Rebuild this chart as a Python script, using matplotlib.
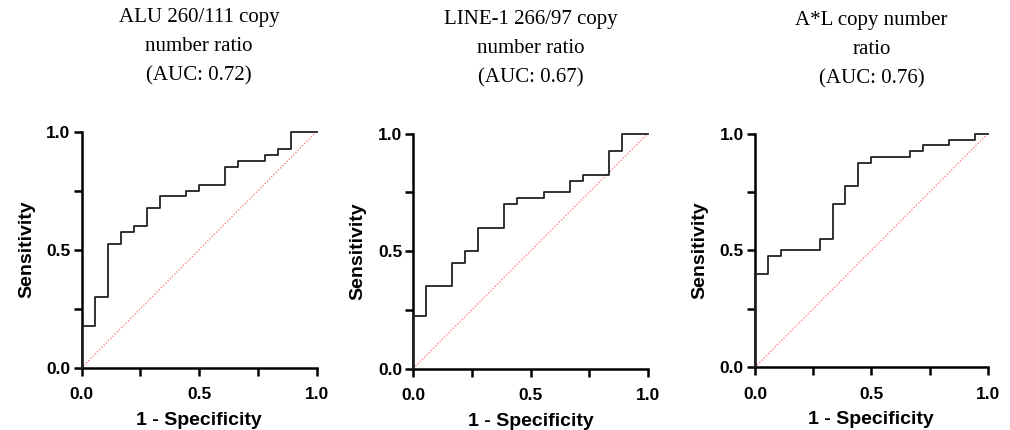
import matplotlib
matplotlib.use("Agg")
import matplotlib.pyplot as plt
import numpy as np

# ROC step points (1 - specificity, sensitivity)
alu_fpr = [0, 0, 1/18, 1/18, 2/18, 2/18, 3/18, 3/18, 4/18, 4/18, 5/18, 5/18, 6/18, 6/18,
           8/18, 8/18, 9/18, 9/18, 11/18, 11/18, 12/18, 12/18, 14/18, 14/18, 15/18, 15/18,
           16/18, 16/18, 1]
alu_tpr = [0, 0.175, 0.175, 0.30, 0.30, 0.525, 0.525, 0.575, 0.575, 0.60, 0.60, 0.675, 0.675, 0.725,
           0.725, 0.75, 0.75, 0.775, 0.775, 0.85, 0.85, 0.875, 0.875, 0.90, 0.90, 0.925,
           0.925, 1.0, 1.0]

line_fpr = [0, 0, 1/18, 1/18, 3/18, 3/18, 4/18, 4/18, 5/18, 5/18, 7/18, 7/18, 8/18, 8/18,
            10/18, 10/18, 12/18, 12/18, 13/18, 13/18, 15/18, 15/18, 16/18, 16/18, 1]
line_tpr = [0, 0.225, 0.225, 0.35, 0.35, 0.45, 0.45, 0.50, 0.50, 0.60, 0.60, 0.70, 0.70, 0.725,
            0.725, 0.75, 0.75, 0.80, 0.80, 0.825, 0.825, 0.925, 0.925, 1.0, 1.0]

al_fpr = [0, 0, 1/18, 1/18, 2/18, 2/18, 5/18, 5/18, 6/18, 6/18, 7/18, 7/18, 8/18, 8/18,
          9/18, 9/18, 12/18, 12/18, 13/18, 13/18, 15/18, 15/18, 17/18, 17/18, 1]
al_tpr = [0, 0.40, 0.40, 0.475, 0.475, 0.50, 0.50, 0.55, 0.55, 0.70, 0.70, 0.775, 0.775, 0.875,
          0.875, 0.90, 0.90, 0.925, 0.925, 0.95, 0.95, 0.975, 0.975, 1.0, 1.0]

titles = ["ALU 260/111 copy\nnumber ratio\n(AUC: 0.72)",
          "LINE-1 266/97 copy\nnumber ratio\n(AUC: 0.67)",
          "A*L copy number\nratio\n(AUC: 0.76)"]
curves = [(alu_fpr, alu_tpr), (line_fpr, line_tpr), (al_fpr, al_tpr)]

# axes boxes in figure fractions
boxes = [[0.0809, 0.145, 0.2327, 0.549],
         [0.4092, 0.143, 0.2321, 0.546],
         [0.7475, 0.146, 0.2304, 0.543]]

plt.rcParams['font.family'] = ['Liberation Sans', 'DejaVu Sans']

fig = plt.figure(figsize=(10.1, 4.3), dpi=100)

for box, title, (fx, ty) in zip(boxes, titles, curves):
    ax = fig.add_axes(box)
    ax.plot(fx, ty, color="#222222", lw=1.3, clip_on=False, zorder=3)
    ax.plot([0, 1], [0, 1], color="#ff6f6f", lw=0.9, ls=(0, (1, 1.5)), zorder=2)
    ax.set_xlim(0, 1)
    ax.set_ylim(0, 1)
    ax.spines['top'].set_visible(False)
    ax.spines['right'].set_visible(False)
    for s in ['left', 'bottom']:
        ax.spines[s].set_linewidth(1.8)
    ticks = [0, 0.25, 0.5, 0.75, 1.0]
    labels = ["0.0", "", "0.5", "", "1.0"]
    ax.set_xticks(ticks)
    ax.set_xticklabels(labels)
    ax.set_yticks(ticks)
    ax.set_yticklabels(labels)
    ax.tick_params(direction='out', length=6, width=1.8, labelsize=12.5)
    ax.tick_params(axis='x', pad=8)
    ax.tick_params(axis='y', pad=2)
    for lab in ax.get_xticklabels() + ax.get_yticklabels():
        lab.set_fontweight('bold')
    ax.set_xlabel("1 - Specificity", fontsize=14, fontweight='bold', labelpad=7)
    ax.set_ylabel("Sensitivity", fontsize=14, fontweight='bold', labelpad=8)
    ax.text(0.5, 1.195, title, transform=ax.transAxes, ha='center', va='bottom',
            family='Liberation Serif', fontsize=15, linespacing=1.72)

fig.savefig("out.png", dpi=100)
